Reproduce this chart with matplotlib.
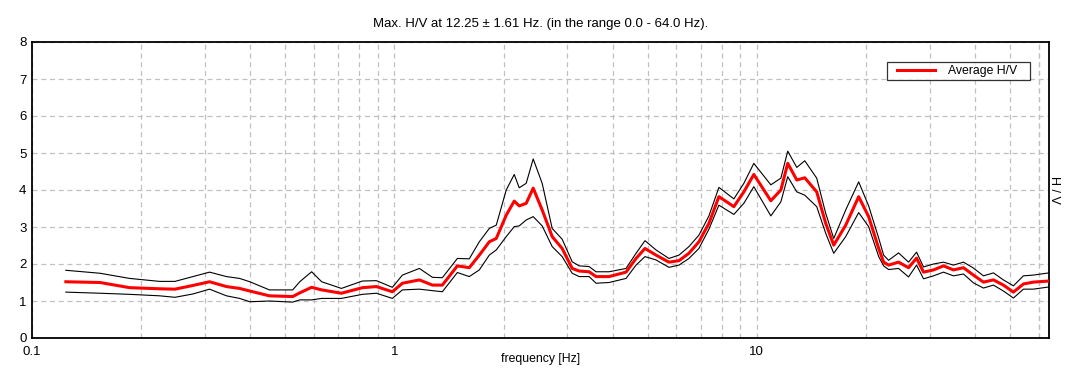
import matplotlib
matplotlib.use("Agg")
import matplotlib.pyplot as plt
from matplotlib.ticker import FixedLocator, NullFormatter, FixedFormatter
from matplotlib.legend_handler import HandlerLine2D

plt.rcParams['font.family'] = ['Liberation Sans', 'DejaVu Sans']

freq = [0.124, 0.154, 0.186, 0.225, 0.248, 0.278, 0.309, 0.344, 0.374, 0.399,
        0.452, 0.524, 0.548, 0.591, 0.630, 0.714, 0.816, 0.892, 0.987, 1.052,
        1.172, 1.273, 1.356, 1.492, 1.609, 1.715, 1.827, 1.910, 2.035, 2.141,
        2.210, 2.310, 2.415, 2.557, 2.725, 2.903, 3.094, 3.234, 3.445, 3.601,
        3.911, 4.356, 4.642, 4.914, 5.270, 5.722, 6.097, 6.497, 6.922, 7.376,
        7.859, 8.643, 9.209, 9.811, 10.93, 11.65, 12.17, 12.89, 13.56, 14.63,
        15.49, 16.30, 17.59, 19.10, 20.35, 21.69, 22.38, 23.10, 24.61, 26.22,
        27.59, 28.84, 30.73, 32.74, 34.88, 37.17, 39.60, 42.2, 44.97, 47.9,
        51.05, 54.4, 57.9, 64.0]

hv_avg = [1.52, 1.50, 1.36, 1.33, 1.32, 1.42, 1.52, 1.39, 1.34, 1.27,
          1.14, 1.12, 1.22, 1.37, 1.30, 1.21, 1.36, 1.39, 1.25, 1.48,
          1.57, 1.43, 1.43, 1.95, 1.90, 2.24, 2.60, 2.69, 3.32, 3.70,
          3.57, 3.64, 4.05, 3.46, 2.74, 2.42, 1.88, 1.81, 1.79, 1.66,
          1.66, 1.78, 2.15, 2.42, 2.24, 2.05, 2.09, 2.29, 2.60, 3.10,
          3.82, 3.55, 3.95, 4.42, 3.71, 4.00, 4.72, 4.27, 4.33, 3.95,
          3.10, 2.51, 3.05, 3.82, 3.28, 2.42, 2.05, 1.97, 2.05, 1.90,
          2.16, 1.78, 1.84, 1.95, 1.84, 1.90, 1.70, 1.51, 1.57, 1.43,
          1.24, 1.46, 1.51, 1.54]

hv_upper = [1.83, 1.75, 1.61, 1.53, 1.53, 1.66, 1.78, 1.66, 1.61, 1.52,
            1.30, 1.30, 1.52, 1.79, 1.52, 1.34, 1.54, 1.55, 1.37, 1.70,
            1.88, 1.64, 1.63, 2.15, 2.14, 2.60, 2.96, 3.05, 4.00, 4.42,
            4.06, 4.18, 4.84, 4.18, 2.96, 2.67, 2.06, 1.95, 1.93, 1.79,
            1.79, 1.88, 2.29, 2.63, 2.38, 2.15, 2.24, 2.47, 2.78, 3.30,
            4.07, 3.76, 4.18, 4.72, 4.14, 4.32, 5.05, 4.61, 4.79, 4.32,
            3.37, 2.69, 3.46, 4.22, 3.57, 2.70, 2.24, 2.10, 2.30, 2.05,
            2.32, 1.92, 2.00, 2.05, 1.97, 2.05, 1.89, 1.68, 1.76, 1.57,
            1.41, 1.68, 1.70, 1.76]

hv_lower = [1.24, 1.21, 1.18, 1.14, 1.10, 1.19, 1.32, 1.14, 1.07, 0.98,
            1.00, 0.97, 1.03, 1.03, 1.07, 1.07, 1.18, 1.21, 1.07, 1.30,
            1.32, 1.28, 1.25, 1.77, 1.66, 1.84, 2.24, 2.38, 2.74, 3.01,
            3.03, 3.19, 3.28, 3.03, 2.47, 2.20, 1.75, 1.66, 1.66, 1.48,
            1.50, 1.61, 1.97, 2.20, 2.11, 1.91, 1.97, 2.15, 2.42, 2.94,
            3.59, 3.34, 3.64, 4.09, 3.30, 3.68, 4.36, 3.95, 3.86, 3.55,
            2.83, 2.29, 2.74, 3.39, 3.01, 2.20, 1.95, 1.85, 1.88, 1.65,
            1.97, 1.60, 1.68, 1.78, 1.68, 1.73, 1.49, 1.35, 1.43, 1.27,
            1.08, 1.32, 1.32, 1.38]

title = "Max. H/V at 12.25 \u00b1 1.61 Hz. (in the range 0.0 - 64.0 Hz)."


class PaddedLine(HandlerLine2D):
    def get_xdata(self, legend, xdescent, ydescent, width, height, fontsize):
        pad = 0.15 * width
        return [-xdescent + pad, -xdescent + width], [-xdescent + pad, -xdescent + width]


fig = plt.figure(figsize=(10.81, 3.81), dpi=100)
ax = fig.add_axes([32/1081, 1 - 338/381, (1049 - 32)/1081, (338 - 42)/381])

ax.plot(freq, hv_upper, color='black', lw=0.8, zorder=3)
ax.plot(freq, hv_lower, color='black', lw=0.8, zorder=3)
avg_line, = ax.plot(freq, hv_avg, color='#ff0000', lw=2.2, zorder=4, label='Average H/V')

ax.set_xscale('log')
ax.set_xlim(0.1, 64.0)
ax.set_ylim(0, 8)

grid_x = [m * 10.0 ** e for e in (-1, 0, 1) for m in range(1, 10)] + [60.0]
ax.xaxis.set_major_locator(FixedLocator([0.1, 1, 10]))
ax.xaxis.set_major_formatter(FixedFormatter(['0.1', '1', '10']))
ax.xaxis.set_minor_locator(FixedLocator(grid_x))
ax.xaxis.set_minor_formatter(NullFormatter())
ax.set_yticks(range(0, 9))

ax.grid(True, which='both', axis='x', color='#c0c0c0', linestyle=(0, (4, 3)), lw=0.9)
ax.grid(True, which='major', axis='y', color='#c0c0c0', linestyle=(0, (4, 3)), lw=0.9)
ax.set_axisbelow(True)

ax.tick_params(axis='both', which='both', length=0, labelsize=9.5, colors='black')
ax.tick_params(axis='x', pad=6)
ax.tick_params(axis='y', pad=4)

for s in ax.spines.values():
    s.set_color('black')
    s.set_linewidth(1.3)

ax.set_xlabel('frequency [Hz]', fontsize=8.8, labelpad=-4)
ax.yaxis.set_label_position('right')
ax.set_ylabel('H / V', fontsize=9, rotation=-90, labelpad=8)
ax.set_title(title, fontsize=9.5, pad=11)

leg = ax.legend(handles=[avg_line], labels=['Average H/V   '],
                handler_map={avg_line: PaddedLine()},
                loc='upper right', bbox_to_anchor=(1 - 19/1017, 1 - 20/296),
                fontsize=8.8, frameon=True, fancybox=False, shadow=False,
                handlelength=3.7, borderpad=0.25, handletextpad=1.0, borderaxespad=0)
leg.get_frame().set_edgecolor('black')
leg.get_frame().set_linewidth(0.9)

fig.savefig('out.png', dpi=100)
